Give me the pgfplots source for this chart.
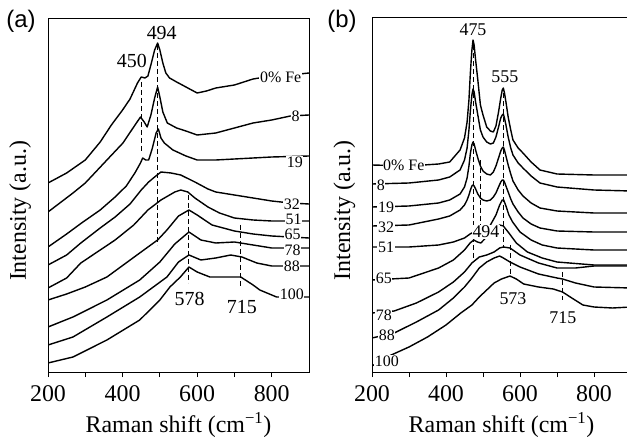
\documentclass[border=0pt]{standalone}
\usepackage{pgfplots}
\pgfplotsset{compat=1.18}
\usepackage{fontspec}
\setmainfont{Liberation Serif}
\newfontfamily\sansf{Liberation Sans}
\pgfplotsset{
 ramanax/.style={scale only axis, xmin=200,xmax=900,ymin=0,ymax=354,
   xtick={200,400,600,800}, minor xtick={300,500,700}, ytick=\empty,
   tick align=outside, xtick pos=left, major tick length=5bp, minor tick length=5bp,
   every tick/.style={black, line width=0.8bp},
   axis line style={line width=0.8bp},
   ticklabel style={font=\fontsize{24}{24}\selectfont},
   xticklabel style={yshift=-5bp},
   /pgf/number format/assume math mode=true,
   /pgf/number format/1000 sep={},
   xlabel={Raman shift (cm\textsuperscript{−1})},
   ylabel={Intensity (a.u.)},
   label style={font=\fontsize{24}{24}\selectfont},
   xlabel style={at={(axis description cs:0.5,-0.15)},anchor=center},
   ylabel style={at={(axis description cs:-0.107,0.455)},anchor=center},
 },
}
\tikzset{
 spec/.style={black, line width=1.4bp, line join=round},
 mk/.style={black, line width=1bp, dash pattern=on 5bp off 3bp},
 lbl/.style={fill=white, inner sep=0.6bp, font=\fontsize{16}{16}\selectfont},
 pk/.style={font=\fontsize{20}{20}\selectfont, inner sep=0pt},
}
\begin{document}
\begin{tikzpicture}
\path[use as bounding box] (0bp,0bp) rectangle (627bp,438bp);
% ---------------- panel (a)
\begin{axis}[ramanax, at={(48bp,66bp)}, anchor=south west, width=261bp, height=354bp]
% 0% Fe
\addplot[spec, no markers] coordinates {(200,189)(250,199)(300,212)(340,230)(370,247)(400,262)(420,273)(440,289)(450,295)(460,294)(468,296)(478,310)(486,322)(494,329)(500,322)(508,309)(516,299)(526,294)(545,290)(570,285)(600,279)(625,281)(650,284)(700,287)(750,293)(800,296)(850,297)(900,299)};
% 8
\addplot[spec, no markers] coordinates {(200,160)(267,179)(300,189)(358,212)(401,229)(428,244)(448,255)(458,250)(466,245)(476,257)(486,274)(494,285)(500,275)(508,260)(520,249)(545,244)(570,241)(600,237)(650,239)(700,244)(750,249)(800,252)(850,256)(900,257)};
% 19
\addplot[spec, no markers] coordinates {(200,125)(250,138)(290,149)(340,162)(380,175)(410,186)(433,199)(448,209)(454,214)(462,212)(470,212)(480,224)(490,239)(496,243)(503,234)(512,229)(535,222)(570,216)(600,212)(650,212)(700,213)(800,215)(900,216)};
% 32
\addplot[spec, no markers] coordinates {(200,107)(250,117)(288,129)(340,144)(380,155)(420,168)(450,182)(470,190)(486,195)(503,200)(530,199)(556,197)(594,190)(629,183)(650,180)(700,177)(750,174)(800,171)(850,169)(900,168)};
% 51
\addplot[spec, no markers] coordinates {(200,84)(250,94)(288,109)(340,122)(380,132)(430,147)(468,162)(503,172)(540,180)(556,182)(575,180)(594,174)(629,165)(660,159)(700,154)(750,152)(800,151)(900,151)};
% 65
\addplot[spec, no markers] coordinates {(200,72)(250,78)(300,85)(358,95)(446,119)(494,132)(519,142)(550,156)(578,162)(600,157)(640,147)(700,141)(750,138)(800,136)(900,134)};
% 78
\addplot[spec, no markers] coordinates {(200,45)(267,55)(358,72)(446,92)(500,110)(540,128)(578,140)(610,132)(650,129)(700,130)(750,127)(800,124)(900,124)};
% 88
\addplot[spec, no markers] coordinates {(200,27)(267,35)(358,55)(446,75)(519,95)(550,110)(578,117)(610,112)(650,114)(690,117)(720,115)(760,109)(800,106)(900,106)};
% 100
\addplot[spec, no markers] coordinates {(200,9)(267,15)(358,32)(446,52)(500,72)(527,85)(555,95)(578,105)(600,100)(634,95)(680,95)(717,95)(750,87)(768,82)(813,75)(900,75)};
% markers
\draw[mk] (axis cs:450,290) -- (axis cs:450,219);
\draw[mk] (axis cs:494,327) -- (axis cs:494,127);
\draw[mk] (axis cs:578,177) -- (axis cs:578,89);
\draw[mk] (axis cs:715,147) -- (axis cs:715,84);
% peak labels
\node[pk] at (axis cs:505,339) {494};
\node[pk] at (axis cs:425,311) {450};
\node[pk] at (axis cs:580,73) {578};
\node[pk] at (axis cs:720,65) {715};
% curve labels
\node[lbl] at (axis cs:824,295) {0\% Fe};
\node[lbl] at (axis cs:864,256) {8};
\node[lbl] at (axis cs:862,210) {19};
\node[lbl] at (axis cs:854,168) {32};
\node[lbl] at (axis cs:859,153) {51};
\node[lbl] at (axis cs:856,138) {65};
\node[lbl] at (axis cs:856,122) {78};
\node[lbl] at (axis cs:854,106) {88};
\node[lbl] at (axis cs:854,78) {100};
\end{axis}
% ---------------- panel (b)
\begin{axis}[ramanax, at={(372bp,66bp)}, anchor=south west, width=259bp, height=355bp, ymax=355]
% 0% Fe
\addplot[spec, no markers] coordinates {(200,207)(300,206)(380,208)(410,210)(438,222)(450,234)(457,250)(462,272)(466,300)(470,322)(473,332)(476,327)(480,312)(486,292)(493,267)(500,257)(510,245)(520,241)(528,240)(535,246)(542,260)(548,274)(552,282)(555,284)(558,279)(562,270)(568,255)(575,242)(581,232)(595,224)(608,219)(630,210)(654,202)(700,198)(800,197)(900,197)};
% 8
\addplot[spec, no markers] coordinates {(200,188)(300,189)(380,192)(410,195)(438,202)(450,212)(457,224)(462,242)(466,262)(470,277)(473,283)(476,280)(480,270)(486,257)(493,242)(500,235)(510,230)(520,228)(528,229)(535,235)(542,245)(548,254)(552,257)(555,258)(558,254)(562,247)(568,235)(575,224)(581,217)(595,209)(608,204)(630,196)(654,189)(700,185)(800,182)(900,181)};
% 19
\addplot[spec, no markers] coordinates {(200,165)(300,166)(380,169)(410,172)(438,178)(450,185)(457,194)(462,206)(466,219)(470,227)(473,230)(476,228)(480,222)(486,214)(493,206)(500,201)(510,198)(520,197)(528,200)(535,206)(542,214)(548,221)(552,224)(555,225)(558,222)(562,216)(568,207)(575,198)(581,191)(595,182)(608,176)(630,169)(654,164)(700,161)(800,159)(900,159)};
% 32
\addplot[spec, no markers] coordinates {(200,146)(300,147)(380,153)(410,156)(438,162)(450,167)(457,172)(462,177)(466,182)(470,186)(473,187)(476,186)(480,183)(486,178)(493,174)(500,172)(510,171)(520,172)(528,175)(535,179)(542,185)(548,190)(552,192)(555,192)(558,190)(562,186)(568,180)(575,173)(581,168)(595,160)(608,154)(630,148)(654,144)(700,141)(800,140)(900,140)};
% 51
\addplot[spec, no markers] coordinates {(200,125)(300,125)(380,127)(420,130)(450,134)(465,138)(475,140)(485,138)(494,137)(505,140)(520,147)(535,157)(545,167)(552,172)(556,172)(562,166)(570,157)(580,150)(600,140)(630,132)(660,127)(700,124)(800,122)(900,122)};
% 65
\addplot[spec, no markers] coordinates {(200,92)(300,94)(380,104)(420,112)(450,122)(465,129)(475,132)(485,130)(494,129)(510,135)(530,142)(545,147)(555,146)(570,139)(590,129)(620,120)(660,114)(700,110)(800,107)(900,107)};
% 78
\addplot[spec, no markers] coordinates {(200,59)(260,61)(320,69)(380,80)(420,90)(450,100)(470,109)(490,115)(510,117)(530,120)(545,124)(555,125)(573,124)(600,117)(650,109)(700,104)(750,104)(800,106)(900,106)};
% 88
\addplot[spec, no markers] coordinates {(200,34)(260,39)(320,50)(380,62)(420,74)(450,85)(470,94)(490,104)(510,110)(530,114)(545,116)(555,114)(573,110)(600,105)(650,98)(700,94)(715,93)(750,89)(800,85)(900,84)};
% 100
\addplot[spec, no markers] coordinates {(200,6)(240,15)(300,25)(350,35)(400,47)(440,59)(470,67)(490,75)(510,82)(530,89)(550,93)(573,96)(590,93)(610,88)(650,85)(690,83)(715,80)(740,74)(770,67)(800,65)(850,64)(900,65)};
% markers
\draw[mk] (axis cs:475,327) -- (axis cs:475,110);
\draw[mk] (axis cs:494,212) -- (axis cs:494,147);
\draw[mk] (axis cs:555,279) -- (axis cs:555,125);
\draw[mk] (axis cs:573,127) -- (axis cs:573,95);
\draw[mk] (axis cs:715,100) -- (axis cs:715,72);
% peak labels
\node[pk,font=\fontsize{18}{18}\selectfont] at (axis cs:473,342) {475};
\node[pk,font=\fontsize{18}{18}\selectfont] at (axis cs:559,295) {555};
\node[pk,font=\fontsize{18}{18}\selectfont,fill=white,inner sep=0.5bp] at (axis cs:508,140) {494};
\node[pk,font=\fontsize{18}{18}\selectfont] at (axis cs:581,73) {573};
\node[pk,font=\fontsize{18}{18}\selectfont] at (axis cs:716,54) {715};
% curve labels
\node[lbl] at (axis cs:286,207) {0\% Fe};
\node[lbl] at (axis cs:224,187) {8};
\node[lbl] at (axis cs:238,165) {19};
\node[lbl] at (axis cs:238,145) {32};
\node[lbl] at (axis cs:238,125) {51};
\node[lbl] at (axis cs:232,94) {65};
\node[lbl] at (axis cs:232,57) {78};
\node[lbl] at (axis cs:240,37) {88};
\node[lbl] at (axis cs:240,11) {100};
\end{axis}
\node[font=\sansf\fontsize{24}{24}\selectfont] at (21bp,417bp) {(a)};
\node[font=\sansf\fontsize{24}{24}\selectfont] at (342bp,417bp) {(b)};
\end{tikzpicture}
\end{document}
